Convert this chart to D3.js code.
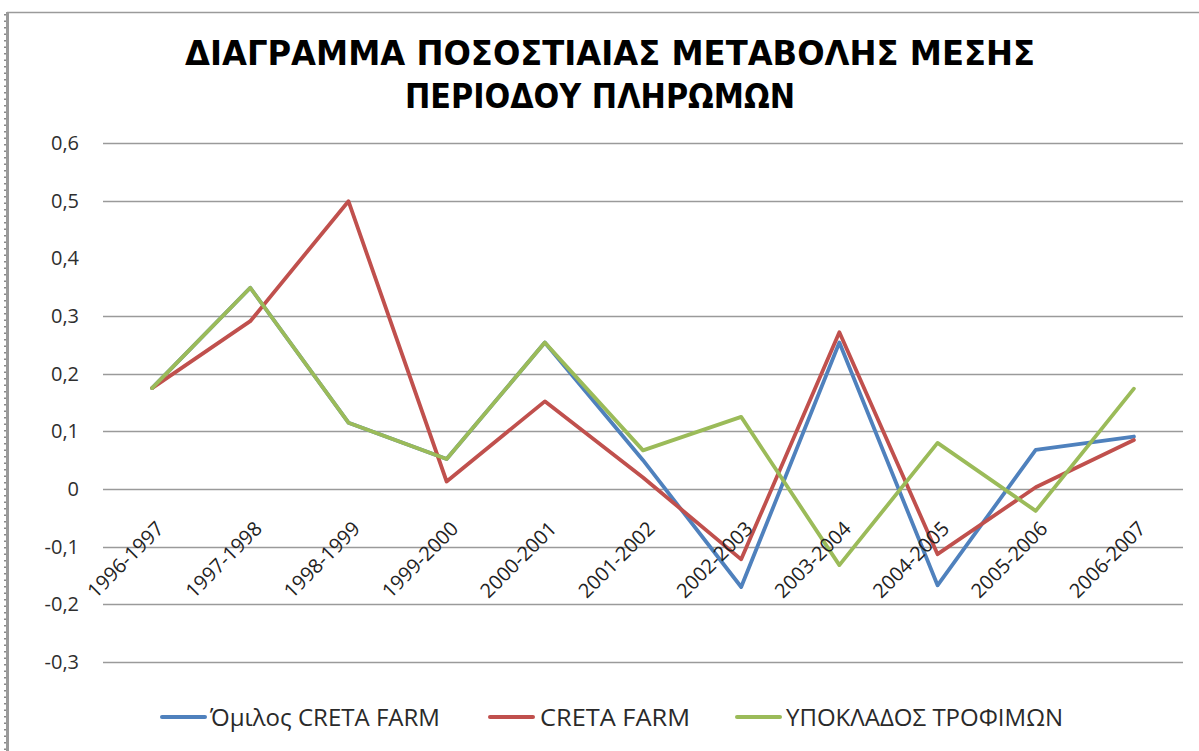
<!DOCTYPE html>
<html>
<head>
<meta charset="utf-8">
<script src="https://cdn.jsdelivr.net/npm/d3@7"></script>
<style>
  html, body { margin: 0; padding: 0; background: #ffffff; }
  svg { display: block; }
</style>
</head>
<body>
<svg id="chart" width="1199" height="751"></svg>
<script>
// ---- data ----
const categories = ["1996-1997","1997-1998","1998-1999","1999-2000","2000-2001","2001-2002",
                    "2002-2003","2003-2004","2004-2005","2005-2006","2006-2007"];
const omilosCretaFarm = [0.175, 0.349, 0.115, 0.052, 0.254, 0.050, -0.170, 0.254, -0.167, 0.068, 0.091];
const cretaFarm       = [0.175, 0.291, 0.499, 0.013, 0.152, 0.020, -0.122, 0.272, -0.113, 0.003, 0.085];
const ypokladosTrofimon = [0.175, 0.349, 0.115, 0.052, 0.254, 0.067, 0.125, -0.132, 0.080, -0.038, 0.174];
const seriesNames = ["Όμιλος CRETA FARM", "CRETA FARM", "ΥΠΟΚΛΑΔΟΣ ΤΡΟΦΙΜΩΝ"];
const yTickValues = [-0.3, -0.2, -0.1, 0, 0.1, 0.2, 0.3, 0.4, 0.5, 0.6];
const yTickLabels = ["-0,3", "-0,2", "-0,1", "0", "0,1", "0,2", "0,3", "0,4", "0,5", "0,6"];
const gridValues  = [-0.3, -0.2, -0.1, 0, 0.1, 0.2, 0.3, 0.5, 0.6];
const titleLines = ["ΔΙΑΓΡΑΜΜΑ ΠΟΣΟΣΤΙΑΙΑΣ ΜΕΤΑΒΟΛΗΣ ΜΕΣΗΣ", "ΠΕΡΙΟΔΟΥ ΠΛΗΡΩΜΩΝ"];

const series = [
  { name: seriesNames[0], values: omilosCretaFarm,   color: "#4F81BD" },
  { name: seriesNames[1], values: cretaFarm,         color: "#C0504D" },
  { name: seriesNames[2], values: ypokladosTrofimon, color: "#9BBB59" }
];

// ---- layout ----
const svg = d3.select("#chart");
const plot = { left: 103, right: 1183, top: 143, bottom: 662 };

// chart frame
svg.append("line").attr("x1", 7).attr("x2", 1199).attr("y1", 12.5).attr("y2", 12.5)
  .attr("stroke", "#9a9a9a").attr("stroke-width", 1.5);
svg.append("line").attr("x1", 7.5).attr("x2", 7.5).attr("y1", 12).attr("y2", 751)
  .attr("stroke", "#9a9a9a").attr("stroke-width", 3);
svg.append("line").attr("x1", 5).attr("x2", 5).attr("y1", 14).attr("y2", 751)
  .attr("stroke", "#8a8a8a").attr("stroke-width", 2).attr("stroke-dasharray", "1.5,5");

// title
const titleW = [850, 390];
const titleX = [610, 600];
const titleY = [65, 108];
titleLines.forEach((t, i) => {
  svg.append("text")
    .attr("x", titleX[i]).attr("y", titleY[i])
    .attr("text-anchor", "middle")
    .attr("font-family", "DejaVu Sans")
    .attr("font-weight", "bold")
    .attr("font-size", 34)
    .attr("fill", "#000")
    .attr("textLength", titleW[i])
    .attr("lengthAdjust", "spacingAndGlyphs")
    .text(t);
});

// scales
const x = d3.scaleBand().domain(categories).range([plot.left, plot.right]).padding(0);
const cx = d => x(d) + x.bandwidth() / 2;
const y = d3.scaleLinear().domain([-0.3, 0.6]).range([plot.bottom, plot.top]);

// gridlines
svg.append("g").selectAll("line").data(gridValues).join("line")
  .attr("x1", plot.left).attr("x2", plot.right)
  .attr("y1", d => Math.round(y(d)) + 0.5).attr("y2", d => Math.round(y(d)) + 0.5)
  .attr("stroke", "#9a9a9a").attr("stroke-width", 1.7);

// y axis labels
const yAxis = d3.axisLeft(y).tickValues(yTickValues)
  .tickFormat((d, i) => yTickLabels[i]).tickSize(0).tickPadding(0);
const yg = svg.append("g").attr("transform", `translate(${79},0)`).call(yAxis);
yg.select(".domain").remove();
yg.selectAll("text")
  .attr("font-family", "Open Sans").attr("font-size", 20).attr("fill", "#2e2e2e");

// lines
const line = d3.line().x((d, i) => cx(categories[i])).y(d => y(d));
svg.append("g").selectAll("path").data(series).join("path")
  .attr("d", s => line(s.values))
  .attr("fill", "none")
  .attr("stroke", s => s.color)
  .attr("stroke-width", 3.8)
  .attr("stroke-linejoin", "round")
  .attr("stroke-linecap", "round");

// x axis labels (rotated)
const xAxis = d3.axisBottom(x).tickSize(0).tickPadding(0);
const xg = svg.append("g").attr("transform", `translate(0,${y(0)})`).call(xAxis);
xg.select(".domain").remove();
xg.selectAll("text")
  .attr("font-family", "Open Sans").attr("font-size", 20).attr("fill", "#222")
  .attr("text-anchor", "end")
  .attr("dy", null)
  .attr("transform", "translate(13,41) rotate(-45)")
  .attr("x", 0).attr("y", 0);

// legend
const legendPos = [
  { lx: 162, tx: 210, tw: 230 },
  { lx: 490, tx: 540, tw: 150 },
  { lx: 737, tx: 786, tw: 277 }
];
const lg = svg.append("g");
series.forEach((s, i) => {
  const p = legendPos[i];
  lg.append("line").attr("x1", p.lx).attr("x2", p.lx + 43)
    .attr("y1", 717).attr("y2", 717)
    .attr("stroke", s.color).attr("stroke-width", 4).attr("stroke-linecap", "round");
  lg.append("text").attr("x", p.tx).attr("y", 726)
    .attr("font-family", "Open Sans").attr("font-size", 23).attr("fill", "#2a2a2a")
    .attr("textLength", p.tw).attr("lengthAdjust", "spacingAndGlyphs")
    .text(s.name);
});
</script>
</body>
</html>
